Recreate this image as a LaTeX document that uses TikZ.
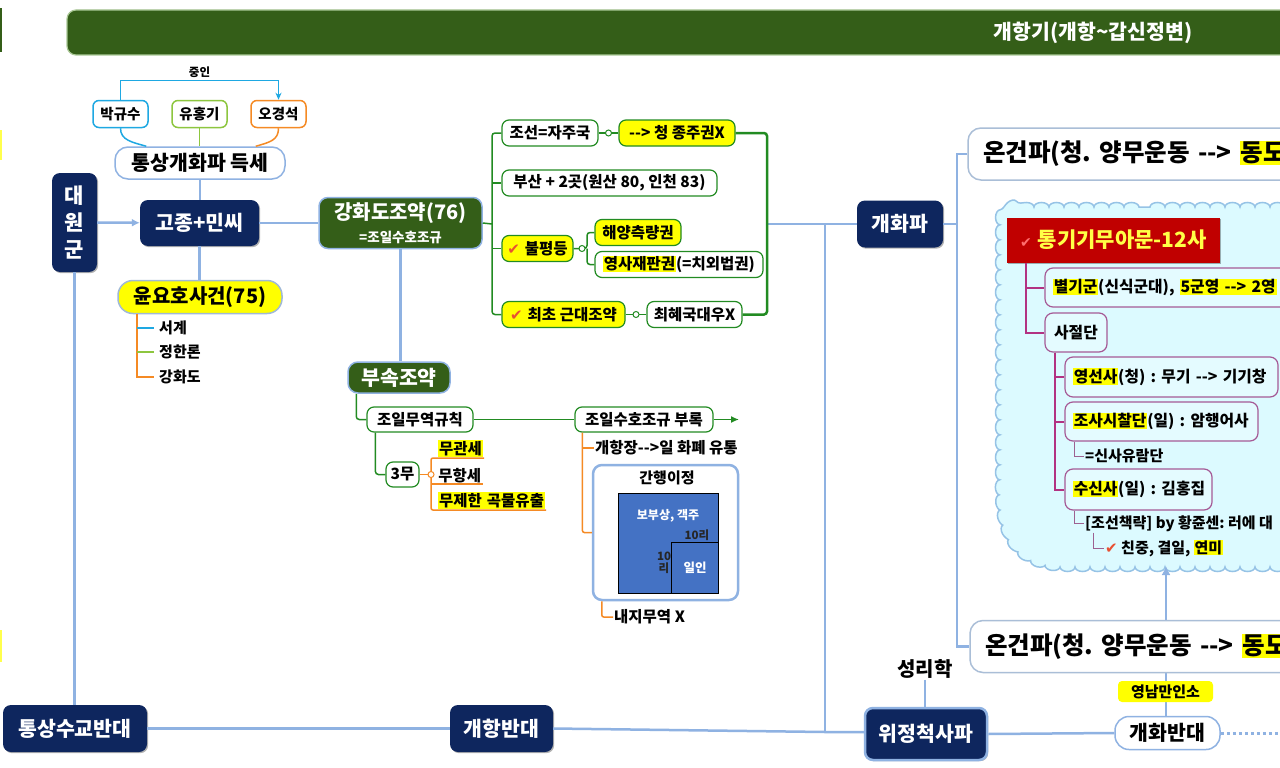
\documentclass[tikz,border=0pt]{standalone}
\usepackage{fontspec}
\setmainfont{Noto Sans CJK KR}[Ligatures=TeXOff]
\newfontfamily\sym{DejaVu Sans}
\usetikzlibrary{calc,arrows.meta,shadows,decorations.pathmorphing}
\frenchspacing
\definecolor{navy}{RGB}{14,38,94}
\definecolor{dkgreen}{RGB}{52,94,24}
\definecolor{lb}{RGB}{143,178,226}
\definecolor{grn}{RGB}{34,139,34}
\definecolor{orn}{RGB}{245,138,36}
\definecolor{cyn}{RGB}{30,168,226}
\definecolor{lgrn}{RGB}{141,198,63}
\definecolor{mag}{RGB}{178,50,130}
\definecolor{purp}{RGB}{165,90,150}
\definecolor{cloudfill}{RGB}{220,250,255}
\definecolor{pboxfill}{RGB}{228,251,255}
\definecolor{cloudline}{RGB}{150,195,230}
\definecolor{boxred}{RGB}{192,0,0}
\definecolor{sqblue}{RGB}{68,114,196}
\definecolor{chk}{RGB}{232,80,50}
\definecolor{chkpink}{RGB}{255,110,110}
\definecolor{hly}{RGB}{255,255,0}
\definecolor{ttl}{RGB}{255,255,70}
\definecolor{barline}{RGB}{170,200,150}
\definecolor{ogline}{RGB}{170,190,215}
\newcommand\fsz[1]{\fontsize{#1}{#1}\selectfont}
\newcommand\hl[1]{{\setlength{\fboxsep}{0.8pt}\colorbox{hly}{#1}}}
\newcommand\chkm{{\sym\color{chk}\fsz{15}✔}}
\tikzset{
 sz/.style 2 args={minimum width=#1pt,minimum height=#2pt},
 navybox/.style={fill=navy,rounded corners=8pt,text=white,inner sep=0pt,font=\fsz{20.5}\bfseries,
   drop shadow={shadow xshift=1.2pt,shadow yshift=-1.2pt,opacity=0.3,fill=black}},
 pill/.style={fill=white,draw=#1,line width=1.5pt,rounded corners=6pt,inner sep=0pt,font=\fsz{14.5}\bfseries},
 gbox/.style={fill=white,draw=grn,line width=1.2pt,rounded corners=7pt,inner sep=0pt,font=\fsz{15.5}\bfseries},
 gybox/.style={gbox,fill=hly},
 pbox/.style={fill=pboxfill,draw=purp,line width=1.2pt,rounded corners=8pt,inner xsep=8pt,inner ysep=0pt,font=\fsz{15.8}\bfseries},
 ltext/.style={text width=#1pt,align=left},
 ogbox/.style={fill=white,draw=ogline,line width=1.5pt,rounded corners=13pt,inner xsep=15pt,inner ysep=0pt,
   text width=310pt,align=left,minimum height=52pt,font=\fsz{24.5}\bfseries},
 lbl/.style={inner sep=1pt,font=\fsz{15}\bfseries},
 lbline/.style={draw=lb,line width=2.5pt},
 gline/.style={draw=grn,line width=1.5pt,rounded corners=3pt},
 oline/.style={draw=orn,line width=1.5pt,rounded corners=2pt},
 mline/.style={draw=mag,line width=2pt},
 thinp/.style={draw=purp!80!gray,line width=1pt},
 dot/.style={circle,draw=grn,fill=white,line width=1pt,inner sep=0pt,minimum size=6pt},
}
\begin{document}
\begin{tikzpicture}[x=1pt,y=-1pt]
\useasboundingbox (0,0) rectangle (1280,768);
\clip (0,0) rectangle (1280,768);
\fill[white] (0,0) rectangle (1280,768);
% left edge slivers
\fill[dkgreen] (0,8) rectangle (2,52);
\fill[hly!70] (0,130) rectangle (2,160);
\fill[hly!70] (0,630) rectangle (2,662);

% title bar
\node[fill=dkgreen,draw=barline,line width=1.2pt,rounded corners=9pt,sz={1226}{45}] (bar) at (680,32.5) {};
\node[text=white,font=\fsz{20.5}\bfseries] (bartext) at (1093,33) {개항기(개항\textasciitilde 갑신정변)};

% cloud
\draw[fill=cloudfill,draw=cloudline,line width=1.5pt,decorate,decoration={bumps,segment length=30pt,amplitude=4.5pt}]
  (1150,207) -- (1300,207) -- (1300,567) -- (1070,567) .. controls (1025,567) and (1000,545) .. (1000,490)
  -- (1000,225) .. controls (1000,213) and (1006,207) .. (1018,207) -- cycle;

% top-left cluster
\node[pill=cyn,sz={55}{27}] (pk) at (120.5,114) {박규수};
\node[pill=lgrn,sz={55}{27}] (yh) at (199.5,114) {유홍기};
\node[pill=orn,sz={55}{27}] (og) at (278.5,114) {오경석};
\node[fill=white,draw=lb,line width=1.5pt,rounded corners=13pt,sz={170}{32},inner sep=0pt,font=\fsz{20.5}\bfseries] (ts) at (200,163) {통상개화파 득세};
\draw[cyn,line width=1.5pt,-{Stealth[length=7pt,width=6pt]}] (pk.north) -- ++(0,-19) -| node[pos=0.25,above=2pt,font=\fsz{11.5}\bfseries,text=black,inner sep=0pt] (jungin) {중인} (og.north);
\draw[cyn,line width=1.5pt] (pk.south) .. controls +(0,12) and +(-14,-4) .. ($(ts.north west)+(32,0)$);
\draw[lgrn,line width=1.5pt] (yh.south) -- (yh.south |- ts.north);
\draw[orn,line width=1.5pt] (og.south) .. controls +(0,12) and +(14,-4) .. ($(ts.north east)+(-30,0)$);

\node[navybox,sz={119}{46}] (gj) at (199.5,223) {고종+민씨};
\node[navybox,sz={45}{99},align=center,font={\fontsize{21}{27}\selectfont\bfseries}] (dwg) at (74.5,222.5) {대\\원\\군};
\node[fill=dkgreen,draw=lb,line width=1.5pt,rounded corners=9pt,sz={163}{51},inner sep=0pt,text=white,align=center,font={\fontsize{13.5}{23}\selectfont\bfseries}] (gh) at (400.5,223) {{\fsz{20}강화도조약(76)}\\{\fsz{13.5}=조일수호조규}};
\node[fill=hly,draw={rgb,255:red,160;green,185;blue,215},line width=1.5pt,rounded corners=15pt,sz={164}{33},inner sep=0pt,font=\fsz{20}\bfseries] (yy) at (200,297) {윤요호사건(75)};

\draw[lbline] (ts.south) -- (ts.south |- gj.north);
\draw[lbline,-{Latex[length=8pt,width=8pt]}] (dwg) -- (gj);
\draw[lbline] (gj) -- (gh);
\draw[lbline] (gj.south) -- (gj.south |- yy.north);

\node[lbl,anchor=west] (yy1) at (158,328) {서계};
\node[lbl,anchor=west] (yy2) at (158,352) {정한론};
\node[lbl,anchor=west] (yy3) at (158,377) {강화도};
\coordinate (yyT) at (137,313.5);
\draw[orn,line width=1.5pt] (yyT) |- ($(yy3.west)+(-4,0)$);
\draw[cyn,line width=1.5pt] (yyT |- yy1.west) -- ($(yy1.west)+(-4,0)$);
\draw[lgrn,line width=1.5pt] (yyT |- yy2.west) -- ($(yy2.west)+(-4,0)$);

% bottom row
\node[navybox,sz={144}{47}] (tsb) at (75,728.5) {통상수교반대};
\node[navybox,sz={103}{47}] (kb) at (501.5,728.5) {개항반대};
\node[navybox,sz={86}{47}] (gp) at (900,224) {개화파};
\node[navybox,draw=lb,line width=2.5pt,sz={122}{52}] (wj) at (926,734) {위정척사파};
\node[font=\fsz{20}\bfseries,inner sep=1pt] (srh) at (925,669) {성리학};
\node[fill=white,draw=lb,line width=1.5pt,rounded corners=14pt,sz={105}{33},inner sep=0pt,font=\fsz{20.5}\bfseries] (gbd) at (1167.5,733) {개화반대};

\draw[lbline] (dwg.south) -- (dwg.south |- tsb.north);
\draw[lbline] (tsb) -- (kb);
\coordinate (j1) at (825,732);
\draw[lbline] (kb.east) -- (j1) -- (wj.west |- j1);
\draw[lbline] (j1) -- (j1 |- gp);
\draw[lb,line width=1.8pt] (srh.south) -- (srh.south |- wj.north);
\draw[lbline] (wj.east) -- (gbd.west);
\coordinate (gbdR) at (1285,733);
\draw[lb,line width=3pt,dash pattern=on 3pt off 3pt] (gbd.east) -- (gbdR);
\coordinate (cb) at (1166,566);
\draw[lbline,-{Latex[length=9pt,width=9pt]}] (gbd.north -| cb) -- (cb);
\node[fill=hly,rounded corners=4pt,sz={95}{21},inner sep=0pt,font=\fsz{15}\bfseries] (ynm) at (1165.5,691.5) {영남만인소};

% 온건파
\node[ogbox] (og1) at (1138,154) {\mbox{온건파(청. 양무운동 -->\ \hl{동도}}};
\node[ogbox] (og2) at (1140,646.5) {\mbox{온건파(청. 양무운동 -->\ \hl{동도}}};
\coordinate (gv) at (957,224);
\draw[lbline] (gp.east) -- (gv);
\draw[lbline] (og1.west) -| (gv) |- (og2.west);

% green treaty section
\node[gbox,sz={96}{26}] (js) at (550,133) {조선=자주국};
\node[gybox,sz={116}{26}] (jsx) at (677,133) {--> 청 종주권X};
\node[gbox,sz={215}{26}] (bsn) at (609.5,183) {부산 + 2곳(원산 80, 인천 83)};
\node[gybox,sz={71}{26}] (bp) at (537.5,248.5) {\chkm\hspace{5pt}불평등};
\node[gybox,sz={86}{26}] (hy) at (638,232.5) {해양측량권};
\node[gbox,sz={168}{26}] (ysj) at (679,264.5) {\hl{영사재판권}(=치외법권)};
\node[gybox,sz={123}{26}] (cg) at (563.5,314.5) {\chkm\hspace{5pt}최초 근대조약};
\node[gbox,sz={95}{26}] (ch) at (694.5,314.5) {최혜국대우X};

\coordinate (gL) at (492,224);
\draw[gline] (gh.east) -- (gL);
\draw[gline] (js.west) -| (gL |- cg.west) -- (cg.west);
\draw[gline] (gL |- bsn.west) -- (bsn.west);
\draw[gline] (gL |- bp.west) -- (bp.west);
\draw[gline] (js.east) -- (jsx.west);
\node[dot] (d1) at ($(js.east)!0.5!(jsx.west)$) {};
\coordinate (f2) at (587,248.5);
\draw[gline] (bp.east) -- (f2) |- (hy.west);
\draw[gline] (f2) |- (ysj.west);
\node[dot] (d2) at (582,248.5) {};
\draw[gline] (cg.east) -- (ch.west);
\node[dot] (d3) at ($(cg.east)!0.5!(ch.west)$) {};
\coordinate (gbr) at (767,224);
\draw[lbline] (gbr) -- (gp.west);
\draw[gline,line width=2.5pt] (jsx.east) -| (gbr) |- (ch.east);

% 부속조약
\node[fill=dkgreen,draw=lb,line width=1.5pt,rounded corners=10pt,sz={102}{31},inner sep=0pt,text=white,font=\fsz{20.5}\bfseries] (bsj) at (399,377.5) {부속조약};
\draw[lbline] (gh.south) -- (gh.south |- bsj.north);
\node[gbox,sz={106}{25}] (jm) at (420,419.5) {조일무역규칙};
\node[gbox,sz={138}{25}] (jb) at (644,419.5) {조일수호조규 부록};
\draw[gline] ($(bsj.south west)+(9,0)$) |- (jm.west);
\draw[gline] (jm) -- (jb);
\coordinate (jbR) at (739,419.5);
\draw[gline,-{Latex[length=8pt,width=7pt]}] (jb.east) -- (jbR);
\node[gbox,sz={33}{25}] (sm) at (402.5,474.5) {3무};
\draw[gline] ($(jm.south west)+(9,0)$) |- (sm.west);

\node[anchor=south west,inner sep=1.2pt,font=\fsz{15.5}\bfseries] (m1) at (437,458) {\hl{무관세}};
\node[anchor=south west,inner sep=1.2pt,font=\fsz{15.5}\bfseries] (m2) at (437,484) {무항세};
\node[anchor=south west,inner sep=1.2pt,font=\fsz{15.5}\bfseries] (m3) at (437,510) {\hl{무제한\hspace{5pt}곡물유출}};
\coordinate (c4c) at (431,474.5);
\draw[oline] (sm.east) -- (c4c);
\draw[oline] (m1.south east) -- (m1.south east -| c4c) -- (m3.south west -| c4c) -- (m3.south east);
\draw[oline] (m2.south east) -- (m2.south east -| c4c);
\node[dot,draw=orn] (d4) at (c4c) {};

\node[lbl,anchor=west,font=\fsz{15.5}\bfseries] (kh) at (594,448) {개항장-->일 화폐 유통};
\node[fill=white,draw=lb,line width=2.5pt,rounded corners=9pt,sz={145}{135}] (gy) at (665.5,532.5) {};
\coordinate (jbT) at ($(jb.south west)+(8,0)$);
\draw[oline] (jbT) |- (gy.west);
\draw[oline] (jbT |- kh.west) -- (kh.west);
\node[font=\fsz{15}\bfseries] (gyt) at (667,478) {간행이정};
\node[fill=sqblue,draw=black,line width=1pt,sz={100}{100}] (sq) at (668,543) {};
\node[fill=sqblue,draw=black,line width=1pt,sz={47}{51}] (sq2) at (694.5,567.5) {};
\node[text=white,font=\fsz{12}\bfseries] (bbs) at (668,516) {보부상, 객주};
\node[text=black!85,font=\fsz{11.5}\bfseries] (r10a) at (697,535) {10리};
\node[text=black!85,align=center,font={\fontsize{11.5}{12}\selectfont\bfseries}] (r10b) at (664,563) {10\\리};
\node[text=white,font=\fsz{12.5}\bfseries] (ilin) at (695,568) {일인};
\node[lbl,anchor=west,font=\fsz{15.5}\bfseries] (nj) at (613,617) {내지무역 X};
\draw[oline] ($(gy.south west)+(10,0)$) |- (nj.west);

% cloud contents
\node[fill=boxred,sz={213}{45},inner sep=0pt,text=ttl,font=\fsz{21}\bfseries,
  drop shadow={shadow xshift=1.2pt,shadow yshift=-1.2pt,opacity=0.3,fill=black}] (tg) at (1113.5,240) {{\sym\color{chkpink}\fsz{14}✔}\hspace{6pt}통기기무아문-12사};
\node[pbox,ltext=234,sz={250}{39}] (bg) at (1170,287.5) {\mbox{\hl{별기군}(신식군대), \hl{5군영 --> 2영}}};
\node[pbox,sz={62}{39}] (sj) at (1076,332.5) {사절단};
\coordinate (tgT) at (1026,262.5);
\draw[mline] (tgT) |- (bg.west);
\draw[mline] (tgT) |- (sj.west);
\node[pbox,ltext=197,sz={213}{40}] (ys) at (1171.5,377) {\mbox{\hl{영선사}(청) : 무기 --> 기기창}};
\node[pbox,ltext=177,sz={193}{39}] (jss) at (1161.5,421.5) {\mbox{\hl{조사시찰단}(일) : 암행어사}};
\node[pbox,ltext=131,sz={147}{41}] (ss) at (1138.5,489.5) {\mbox{\hl{수신사}(일) : 김홍집}};
\coordinate (sjT) at ($(sj.south west)+(11,0)$);
\draw[mline] (sjT) |- (ys.west);
\draw[mline] (sjT) |- (jss.west);
\draw[mline] (sjT) |- (ss.west);
\node[lbl,anchor=west] (ssy) at (1084,456) {=신사유람단};
\draw[thinp] ($(jss.south west)+(10,0)$) |- (ssy.west);
\node[lbl,anchor=west] (jcl) at (1084,523.5) {[조선책략] by 황쥰센: 러에 대};
\draw[thinp] ($(ss.south west)+(10,0)$) |- (jcl.west);
\node[lbl,anchor=west] (cjg) at (1104,548) {\chkm\ 친중, 결일, \hl{연미}};
\draw[thinp] ($(jcl.south west)+(9,0)$) |- (cjg.west);
\end{tikzpicture}
\end{document}
